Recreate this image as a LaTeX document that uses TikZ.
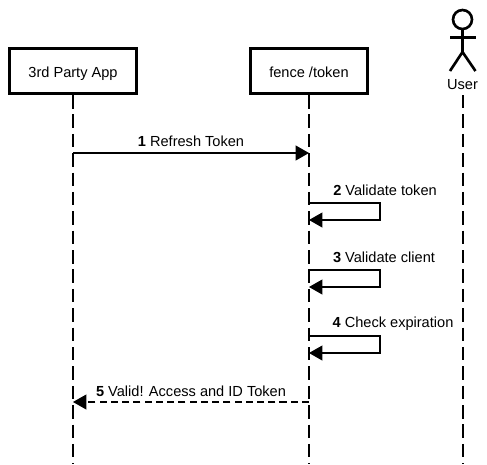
\documentclass[tikz,border=0pt]{standalone}
\usepackage{fontspec}
\setmainfont{Liberation Sans}
\usetikzlibrary{arrows.meta, positioning}

\begin{document}
\begin{tikzpicture}[
  x=0.02cm, y=-0.02cm,
  box/.style={rectangle, draw, line width=1.5pt, minimum height=0.91cm, inner sep=0pt, text height=7.2pt, text depth=0pt, font=\fontsize{8.3pt}{10pt}\selectfont},
  txt/.style={inner sep=0pt, font=\fontsize{8.3pt}{10pt}\selectfont},
  life/.style={line width=0.7pt, dash pattern=on 7.65pt off 3.38pt},
  actorline/.style={line width=1.5pt},
  msg/.style={-{Triangle[length=7.6pt, width=8.5pt]}, line width=0.6pt},
  ret/.style={msg, dash pattern=on 4pt off 2.4pt}]
  \useasboundingbox (0,0) rectangle (487,464);

  % participants
  \node[box, minimum width=2.54cm] (app) at (73,71) {3rd Party App};
  \node[box, minimum width=2.34cm] (fence) at (309,71) {fence /token};

  % the actor
  \node[circle, draw, line width=1.5pt, minimum size=0.38cm, inner sep=0pt] (head) at (462.5,19.5) {};
  \coordinate (neck) at (462.5,52);
  \coordinate (armL) at (450,37.5);
  \coordinate (armR) at (475.5,37.5);
  \coordinate (legL) at (450,71);
  \coordinate (legR) at (475.5,71);
  \draw[actorline] (head) -- (neck);
  \draw[actorline] (armL) -- (armR);
  \draw[actorline, line join=round] (legL) -- (neck) -- (legR);
  \node[txt] (user) at (462.5,84.5) {User};

  % lifelines
  \coordinate (appEnd) at (73,464);
  \coordinate (fenceEnd) at (309,464);
  \coordinate (userTop) at (463,95);
  \coordinate (userEnd) at (463,464);
  \draw[life] (app) -- (appEnd);
  \draw[life] (fence) -- (fenceEnd);
  \draw[life] (userTop) -- (userEnd);

  % step 1
  \coordinate (a1) at (73,153);
  \coordinate (f1) at (309,153);
  \draw[msg] (a1) -- (f1);
  \node[txt] (l1) at (191,141.5) {\textbf{1} Refresh Token};

  % steps 2 to 4
  \coordinate (f2) at (309,203);
  \coordinate (r2) at (380,203);
  \coordinate (s2) at (380,220);
  \coordinate (t2) at (309,220);
  \draw[msg] (f2) -- (r2) -- (s2) -- (t2);
  \node[txt] (l2) at (385,190) {\textbf{2} Validate token};

  \coordinate (f3) at (309,270);
  \coordinate (r3) at (380,270);
  \coordinate (s3) at (380,287);
  \coordinate (t3) at (309,287);
  \draw[msg] (f3) -- (r3) -- (s3) -- (t3);
  \node[txt] (l3) at (384,257) {\textbf{3} Validate client};

  \coordinate (f4) at (309,336);
  \coordinate (r4) at (380,336);
  \coordinate (s4) at (380,353);
  \coordinate (t4) at (309,353);
  \draw[msg] (f4) -- (r4) -- (s4) -- (t4);
  \node[txt] (l4) at (393,324) {\textbf{4} Check expiration};

  % step 5
  \coordinate (f5) at (309,402);
  \coordinate (a5) at (73,402);
  \draw[ret] (f5) -- (a5);
  \node[txt] (l5) at (191,391) {\textbf{5} Valid! Access and ID Token};
\end{tikzpicture}
\end{document}
